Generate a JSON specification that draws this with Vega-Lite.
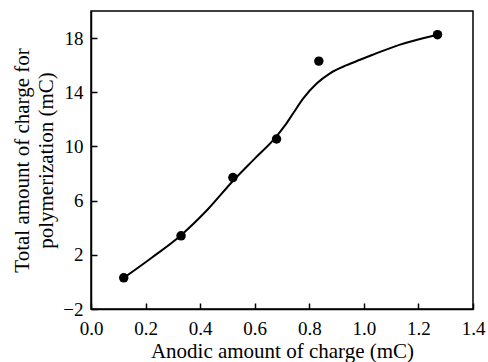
{
  "$schema": "https://vega.github.io/schema/vega-lite/v6.json",
  "autosize": "none",
  "width": 382,
  "height": 298,
  "padding": {"left": 91, "top": 11, "right": 15, "bottom": 53},
  "background": "white",
  "config": {
    "font": "Liberation Serif",
    "view": {"stroke": "black", "strokeWidth": 1.5}
  },
  "datasets": {
    "points": [
      {"x": 0.12, "y": 0.3},
      {"x": 0.33, "y": 3.4},
      {"x": 0.52, "y": 7.7},
      {"x": 0.68, "y": 10.55},
      {"x": 0.835, "y": 16.3},
      {"x": 1.27, "y": 18.25}
    ],
    "curve": [
      {"x": 0.12, "y": 0.3},
      {"x": 0.22, "y": 1.75},
      {"x": 0.33, "y": 3.45},
      {"x": 0.43, "y": 5.4},
      {"x": 0.52, "y": 7.45},
      {"x": 0.6, "y": 9.1},
      {"x": 0.68, "y": 10.75},
      {"x": 0.711, "y": 11.55},
      {"x": 0.741, "y": 12.45},
      {"x": 0.778, "y": 13.55},
      {"x": 0.827, "y": 14.65},
      {"x": 0.876, "y": 15.4},
      {"x": 0.937, "y": 16.0},
      {"x": 0.986, "y": 16.4},
      {"x": 1.03, "y": 16.75},
      {"x": 1.13, "y": 17.5},
      {"x": 1.27, "y": 18.25}
    ]
  },
  "layer": [
    {
      "data": {"name": "curve"},
      "mark": {"type": "line", "interpolate": "monotone", "color": "black", "strokeWidth": 2},
      "encoding": {
        "x": {
          "field": "x",
          "type": "quantitative",
          "scale": {"domain": [0, 1.4], "nice": false, "zero": false},
          "axis": {
            "title": "Anodic amount of charge (mC)",
            "values": [0, 0.2, 0.4, 0.6, 0.8, 1.0, 1.2, 1.4],
            "format": ".1f",
            "grid": false,
            "domainColor": "black",
            "domainWidth": 1.5,
            "tickColor": "black",
            "tickWidth": 1.5,
            "tickSize": -6,
            "labelFont": "Liberation Serif",
            "labelFontSize": 19,
            "labelColor": "black",
            "labelPadding": 16,
            "labelFlush": false,
            "titleFont": "Liberation Serif",
            "titleFontSize": 21,
            "titleFontWeight": "normal",
            "titleColor": "black",
            "titlePadding": 2
          }
        },
        "y": {
          "field": "y",
          "type": "quantitative",
          "scale": {"domain": [-2, 20], "nice": false, "zero": false},
          "axis": {
            "title": ["Total amount of charge for", "polymerization (mC)"],
            "values": [-2, 2, 6, 10, 14, 18],
            "grid": false,
            "domainColor": "black",
            "domainWidth": 1.5,
            "tickColor": "black",
            "tickWidth": 1.5,
            "tickSize": -6,
            "labelFont": "Liberation Serif",
            "labelFontSize": 19,
            "labelColor": "black",
            "labelPadding": 14,
            "labelFlush": false,
            "titleFont": "Liberation Serif",
            "titleFontSize": 21,
            "titleFontWeight": "normal",
            "titleColor": "black",
            "titlePadding": 6,
            "titleLineHeight": 24
          }
        }
      }
    },
    {
      "data": {"name": "points"},
      "mark": {"type": "point", "filled": true, "color": "black", "size": 90, "opacity": 1},
      "encoding": {
        "x": {"field": "x", "type": "quantitative"},
        "y": {"field": "y", "type": "quantitative"}
      }
    }
  ]
}
